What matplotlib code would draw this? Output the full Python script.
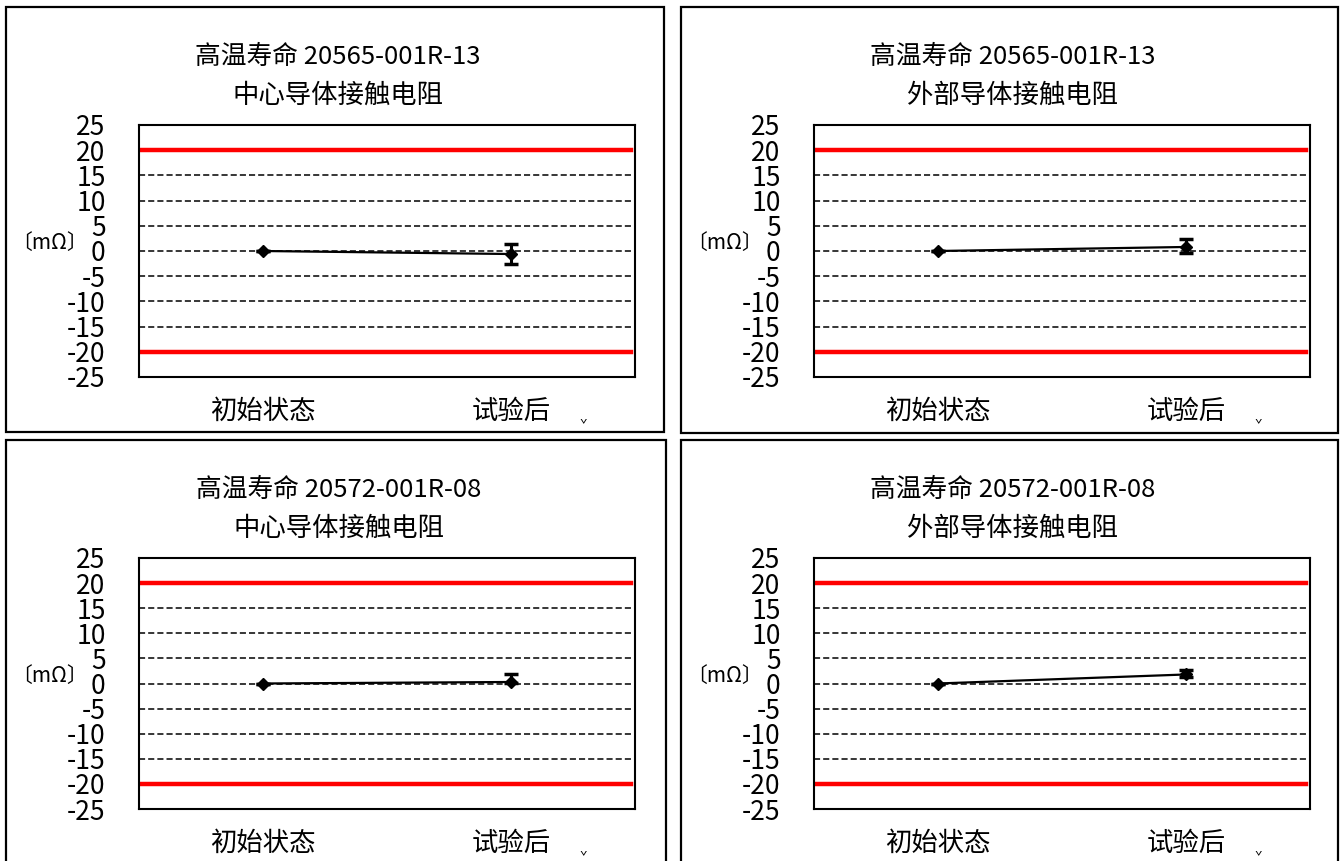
import matplotlib
matplotlib.use("Agg")
import matplotlib.pyplot as plt
from matplotlib.patches import Rectangle

plt.rcParams['font.family'] = ['Noto Sans CJK SC', 'DejaVu Sans']

# ---- data ----
categories = ["初始状态", "试验后"]
titles_line1 = ["高温寿命 20565-001R-13", "高温寿命 20565-001R-13",
                "高温寿命 20572-001R-08", "高温寿命 20572-001R-08"]
titles_line2 = ["中心导体接触电阻", "外部导体接触电阻",
                "中心导体接触电阻", "外部导体接触电阻"]
means = [[0.0, -0.6], [0.0, 0.8], [0.0, 0.3], [0.0, 1.8]]
err_low = [[0.0, 2.0], [0.0, 1.2], [0.0, 0.2], [0.0, 0.6]]
err_high = [[0.0, 2.0], [0.0, 1.6], [0.0, 1.5], [0.0, 0.8]]
limit_upper = 20
limit_lower = -20
yticks = [25, 20, 15, 10, 5, 0, -5, -10, -15, -20, -25]
unit_label = "〔mΩ〕"

W, H = 1343, 861
fig = plt.figure(figsize=(W / 100, H / 100), dpi=100)
fig.patch.set_facecolor("white")

def fx(x):
    return x / W

def fy(y):
    return 1 - y / H

# panel boxes (left, top, right, bottom) in pixels
panels = [(6, 7, 664, 432), (681, 7, 1338, 433),
          (6, 440, 666, 870), (681, 440, 1338, 870)]
# plot areas (left, top, right, bottom)
plots = [(139, 125, 635, 377), (814, 125, 1310, 377),
         (139, 558, 635, 809), (814, 558, 1310, 809)]

for i in range(4):
    pl, pt, pr, pb = panels[i]
    fig.patches.append(Rectangle((fx(pl), fy(pb)), fx(pr - pl), (pb - pt) / H,
                                 transform=fig.transFigure, fill=False,
                                 edgecolor="black", linewidth=1.6, clip_on=False))
    l, t, r, b = plots[i]
    ax = fig.add_axes([fx(l), fy(b), fx(r - l), (b - t) / H])
    ax.set_xlim(-0.5, 1.5)
    ax.set_ylim(-25, 25)
    ax.set_yticks(yticks)
    ax.set_yticklabels([str(v) for v in yticks], fontsize=19)
    ax.set_xticks(range(len(categories)))
    ax.set_xticklabels(categories, fontsize=19)
    ax.tick_params(axis='y', length=0, pad=24)
    ax.tick_params(axis='x', length=0, pad=15)
    for s in ax.spines.values():
        s.set_linewidth(1.5)
        s.set_color("black")
    for v in yticks:
        if v in (limit_upper, limit_lower):
            continue
        ax.axhline(v, color="black", linestyle=(0, (4, 2)), linewidth=1.1, zorder=1)
    ax.axhline(limit_upper, xmin=0, xmax=0.992, color="#ff0000", linewidth=3.2, zorder=2)
    ax.axhline(limit_lower, xmin=0, xmax=0.992, color="#ff0000", linewidth=3.2, zorder=2)
    xs = list(range(len(categories)))
    ax.errorbar(xs, means[i], yerr=[err_low[i], err_high[i]], color="black",
                marker="D", markersize=6, linewidth=1.6, elinewidth=2.2,
                capsize=5, capthick=2.5, zorder=5)
    cx = (pl + pr) / 2 + 3
    fig.text(fx(cx), fy(pt + 50), titles_line1[i], ha="center", va="center", fontsize=18.5)
    fig.text(fx(cx), fy(pt + 88), titles_line2[i], ha="center", va="center", fontsize=19)
    fig.text(fx(l - 128), fy((t + b) / 2 - 8), unit_label, ha="left", va="center", fontsize=15)
    # small clipped mark near the lower right of each panel
    fig.text(fx(r - 52), fy(b + 48), "ˇ", ha="center", va="center", fontsize=9)

fig.savefig("out.png", dpi=100, facecolor="white")
